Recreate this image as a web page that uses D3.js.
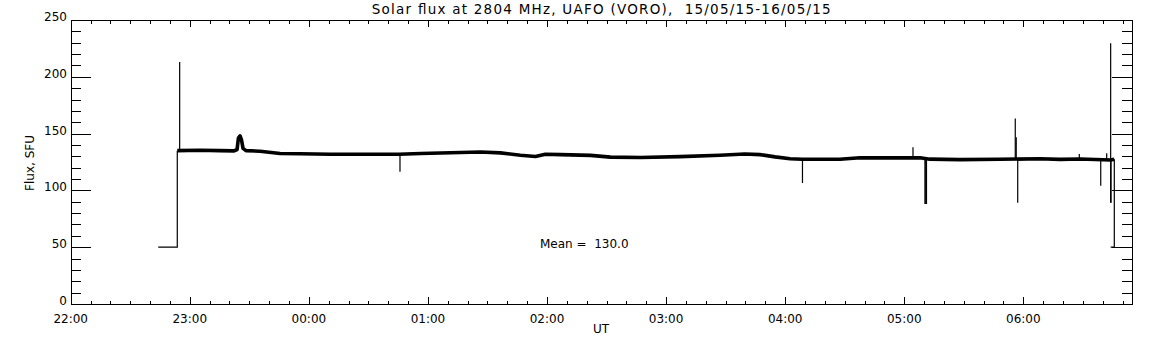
<!DOCTYPE html>
<html><head><meta charset="utf-8">
<script src="https://cdn.jsdelivr.net/npm/d3@7"></script>
<style>body{margin:0;background:#fff}svg{display:block}text{font-family:"DejaVu Sans",sans-serif;fill:#000;white-space:pre}</style>
</head><body><svg id="c" width="1152" height="345"></svg>
<script>
const title = "Solar flux at 2804 MHz, UAFO (VORO),  15/05/15-16/05/15";
const yLabel = "Flux, SFU";
const xLabel = "UT";
const meanText = "Mean =  130.0";
const xStart = "22:00:00", xEnd = "06:54:36";
const yTicks = [0, 50, 100, 150, 200, 250];

// baseline (noisy band) readings
const baseTimes = ["22:53:42","23:05:00","23:15:00","23:22:20","23:23:50","23:24:30","23:25:20","23:26:00","23:26:50","23:28:20","23:35:25","23:45:30","23:55:35","00:10:40","00:25:50","00:45:25","00:56:20","01:11:25","01:26:30","01:36:30","01:46:35","01:54:10","01:59:10","02:06:50","02:21:55","02:32:00","02:47:05","03:07:00","03:27:10","03:39:40","03:47:20","03:54:55","04:02:30","04:08:30","04:27:35","04:37:40","04:57:50","05:07:55","05:12:55","05:28:00","05:48:10","06:08:25","06:18:30","06:28:35","06:44:00","06:45:50"];
const baseFlux  = [135,135.3,135.0,134.8,136,146,148,145,137,135,134.5,132.5,132.3,131.8,131.8,131.8,132.5,133.2,133.8,133.0,131.0,129.8,131.8,131.5,130.8,129.3,129.0,129.7,131.0,132.0,131.5,129.5,127.8,127.4,127.4,128.8,128.6,128.8,127.5,127.1,127.4,127.8,127.3,127.6,126.8,127.5];

// short spikes: time, start value, end value
const spikeTimes = ["22:54:54","00:45:55","04:08:43","05:04:24","05:10:25","05:10:50","05:11:12","05:55:56","05:56:25","05:57:10","06:28:12","06:39:00","06:42:00","06:44:00","06:44:10"];
const spikeFrom  = [135,131.8,127.4,128.8,128,128,128,127.4,127.4,127.4,127.6,127.3,127.3,89.2,127];
const spikeTo    = [213,116.5,106.5,138,88,88,88,163.4,146.7,89.2,132,104.2,132.7,229.5,89.2];

// step edges at the start and the end of the record
const startTimes = ["22:44:06","22:53:42","22:53:42"];
const startFlux  = [50,50,135];
const endTimes   = ["06:45:50","06:45:50","06:44:00"];
const endFlux    = [127.5,50,50];

function T(s){const [h,m,sec]=s.split(":").map(Number);const d=h>=12?15:16;return new Date(Date.UTC(2015,4,d,h,m,sec));}

const svg = d3.select("#c");
const L=70.7, R=1131.7, Tp=20, B=304;
const x = d3.scaleUtc().domain([T(xStart),T(xEnd)]).range([L,R]);
const y = d3.scaleLinear().domain([0,250]).range([B,Tp]);

const g = svg.append("g");
const axisStyle = sel => { sel.select(".domain").remove(); sel.selectAll("line").attr("stroke","#000").attr("shape-rendering","crispEdges"); sel.selectAll("text").remove(); };

// frame
g.append("rect").attr("x",Math.round(L)+0.5).attr("y",Tp+0.5).attr("width",Math.round(R)-Math.round(L)).attr("height",B-Tp)
 .attr("fill","none").attr("stroke","#000").attr("shape-rendering","crispEdges");

const hours = d3.utcHour.every(1).range(T(xStart), T(xEnd));
const mins  = d3.utcMinute.every(10).range(T(xStart), T(xEnd)).filter(d=>d.getUTCMinutes()!==0);
const fmt = d3.utcFormat("%H:%M");

// bottom axis
g.append("g").attr("transform",`translate(0,${B})`).call(d3.axisTop(x).tickValues(hours).tickSize(7)).call(axisStyle);
g.append("g").attr("transform",`translate(0,${B})`).call(d3.axisTop(x).tickValues(mins).tickSize(3.5)).call(axisStyle);
// top axis
g.append("g").attr("transform",`translate(0,${Tp})`).call(d3.axisBottom(x).tickValues(hours).tickSize(7)).call(axisStyle);
g.append("g").attr("transform",`translate(0,${Tp})`).call(d3.axisBottom(x).tickValues(mins).tickSize(3.5)).call(axisStyle);
// left / right axes
const yMinor = d3.range(10,250,10).filter(v=>v%50!==0);
g.append("g").attr("transform",`translate(${L},0)`).call(d3.axisRight(y).tickValues(yTicks).tickSize(20)).call(axisStyle);
g.append("g").attr("transform",`translate(${L},0)`).call(d3.axisRight(y).tickValues(yMinor).tickSize(10)).call(axisStyle);
g.append("g").attr("transform",`translate(${R},0)`).call(d3.axisLeft(y).tickValues(yTicks).tickSize(20)).call(axisStyle);
g.append("g").attr("transform",`translate(${R},0)`).call(d3.axisLeft(y).tickValues(yMinor).tickSize(10)).call(axisStyle);

// tick labels
g.selectAll(".xl").data(hours).join("text").attr("x",d=>x(d)).attr("y",323).attr("text-anchor","middle").attr("font-size",12).text(fmt);
g.selectAll(".yl").data(yTicks).join("text").attr("x",67).attr("y",d=>y(d)+1).attr("text-anchor","end").attr("font-size",12).text(d=>d);

// titles
svg.append("text").attr("x",(L+R)/2).attr("y",14).attr("text-anchor","middle").attr("font-size",13.5).attr("xml:space","preserve")
 .attr("textLength",459).attr("lengthAdjust","spacing").text(title);
svg.append("text").attr("transform",`translate(34,163) rotate(-90)`).attr("text-anchor","middle").attr("font-size",12).text(yLabel);
svg.append("text").attr("x",601).attr("y",333).attr("text-anchor","middle").attr("font-size",12).text(xLabel);
svg.append("text").attr("x",540).attr("y",248).attr("font-size",12).attr("xml:space","preserve").text(meanText);

// data
const line = d3.line().x(d=>x(d[0])).y(d=>y(d[1]));
const base = baseTimes.map((t,i)=>[T(t),baseFlux[i]]);
g.append("path").attr("d",line(base)).attr("fill","none").attr("stroke","#000").attr("stroke-width",3.6).attr("stroke-linejoin","round");
g.append("path").attr("d",line(startTimes.map((t,i)=>[T(t),startFlux[i]]))).attr("fill","none").attr("stroke","#000").attr("stroke-width",1.2);
g.append("path").attr("d",line(endTimes.map((t,i)=>[T(t),endFlux[i]]))).attr("fill","none").attr("stroke","#000").attr("stroke-width",1.2);
g.selectAll(".sp").data(spikeTimes).join("line")
 .attr("x1",d=>x(T(d))).attr("x2",d=>x(T(d)))
 .attr("y1",(d,i)=>y(spikeFrom[i])).attr("y2",(d,i)=>y(spikeTo[i]))
 .attr("stroke","#000").attr("stroke-width",1.2);
</script></body></html>
